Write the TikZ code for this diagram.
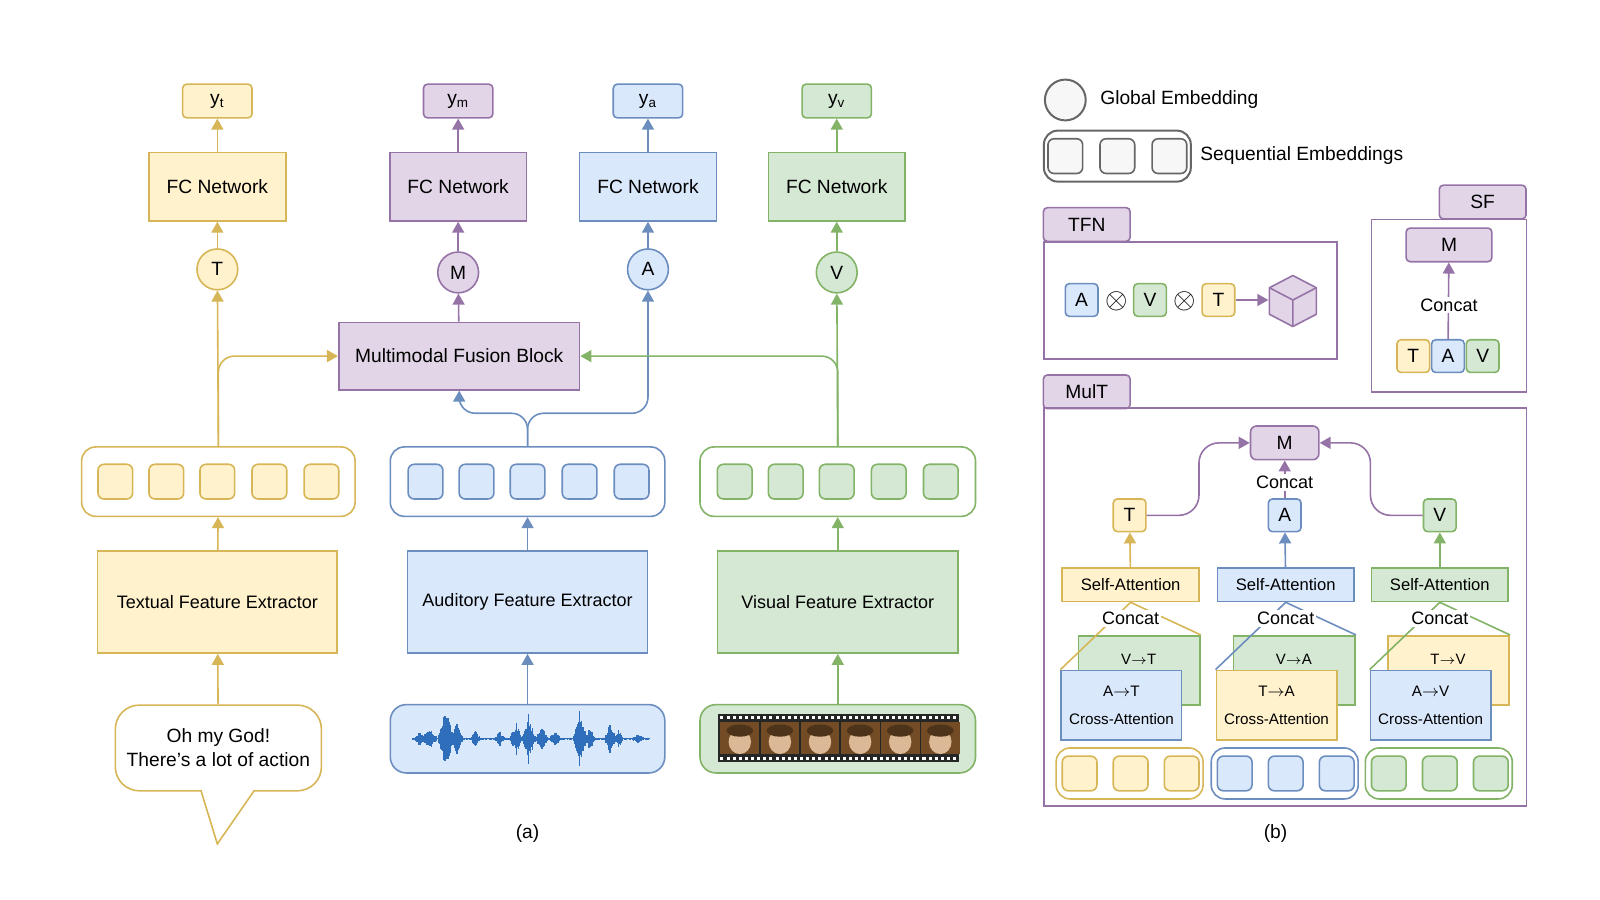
\documentclass[tikz,border=0pt]{standalone}
\usepackage{fontspec}
\setmainfont{Liberation Sans}
\usetikzlibrary{arrows.meta}
\definecolor{yfill}{HTML}{FFF2CC}\definecolor{ydraw}{HTML}{D6B656}
\definecolor{pfill}{HTML}{E1D5E7}\definecolor{pdraw}{HTML}{9673A6}
\definecolor{bfill}{HTML}{DAE8FC}\definecolor{bdraw}{HTML}{6C8EBF}
\definecolor{gfill}{HTML}{D5E8D4}\definecolor{gdraw}{HTML}{82B366}
\definecolor{wave}{HTML}{2F6EBA}
\newdimen\pu \pu=0.51pt
\begin{document}
\begin{tikzpicture}[x=0.51pt,y=-0.51pt,line width=0.8pt,>={Triangle[length=5.5pt,width=6pt]},
    font=\fontsize{9.6}{12}\selectfont,
    sz/.style 2 args={minimum width={#1*\pu},minimum height={#2*\pu}},
    box/.style={draw,inner sep=0pt,align=center},
    ybox/.style={box,fill=yfill,draw=ydraw},
    pbox/.style={box,fill=pfill,draw=pdraw},
    bbox/.style={box,fill=bfill,draw=bdraw},
    gbox/.style={box,fill=gfill,draw=gdraw},
    sq/.style={rounded corners=3pt,sz={34}{34}},
    tok/.style={rounded corners=2pt,sz={32}{32}},
    circ/.style={circle,draw,inner sep=0pt,minimum size={40*\pu}},
    cont/.style={draw,rounded corners=7pt,fill=white},
    wlabel/.style={fill=white,inner sep=1pt}]
  \useasboundingbox (0,0) rectangle (1568,882);

  % (a) outputs
  \node[ybox,rounded corners=2pt,sz={68}{33}] (yt) at (213,99) {y\textsubscript{t}};
  \node[pbox,rounded corners=2pt,sz={68}{33}] (ym) at (449,99) {y\textsubscript{m}};
  \node[bbox,rounded corners=2pt,sz={68}{33}] (ya) at (635,99) {y\textsubscript{a}};
  \node[gbox,rounded corners=2pt,sz={68}{33}] (yv) at (820,99) {y\textsubscript{v}};
  \node[ybox,sz={134}{67}] (fct) at (213,183) {FC Network};
  \node[pbox,sz={134}{67}] (fcm) at (449,183) {FC Network};
  \node[bbox,sz={134}{67}] (fca) at (635,183) {FC Network};
  \node[gbox,sz={134}{67}] (fcv) at (820,183) {FC Network};
  \node[circ,fill=yfill,draw=ydraw] (ct) at (213,264) {T};
  \node[circ,fill=pfill,draw=pdraw] (cm) at (449,267) {M};
  \node[circ,fill=bfill,draw=bdraw] (ca) at (635,264) {A};
  \node[circ,fill=gfill,draw=gdraw] (cv) at (820,267) {V};
  \node[pbox,sz={236}{66}] (fus) at (450,349) {Multimodal Fusion Block};

  % sequential features
  \node[cont,draw=ydraw,sz={268}{68}] (seqt) at (214,472) {};
  \node[cont,draw=bdraw,sz={269}{68}] (seqa) at (517,472) {};
  \node[cont,draw=gdraw,sz={270}{68}] (seqv) at (821,472) {};
  \foreach \x in {113,163,213,264,315} {
    \node[ybox,sq] at (\x,472) {};
    \node[bbox,sq] at (\x+304,472) {};
    \node[gbox,sq] at (\x+607,472) {};
  }
  \node[ybox,sz={235}{100},font=\fontsize{9}{11}\selectfont] (ext) at (213,590) {Textual Feature Extractor};
  \node[bbox,sz={235}{100},font=\fontsize{9}{11}\selectfont] (exa) at (517,590) {Auditory Feature Extractor};
  \node[gbox,sz={236}{100},font=\fontsize{9}{11}\selectfont] (exv) at (821,590) {Visual Feature Extractor};

  % inputs
  \node[box,draw=ydraw,fill=white,rounded corners=12pt,sz={202}{84}] (speech) at (214,733)
    {Oh my God!\\There's a lot of action};
  \fill[white] (198,772) rectangle (248,778);
  \draw[ydraw] (197,775) -- (213,827) -- (249,775);
  \node[bbox,rounded corners=8pt,sz={269}{67}] (wav) at (517,724) {};
  \node[gbox,rounded corners=8pt,sz={270}{67}] (vid) at (821,724) {};
  % waveform
  \pgfmathsetseed{7}
  \foreach \xx in {405,406,...,636} {
    \pgfmathsetmacro\env{1+6*max(0,1-abs(\xx-411)/6)+12*max(0,1-abs(\xx-421)/7)+27*max(0,1-abs(\xx-437)/8)
      +14*max(0,1-abs(\xx-448)/6)+8*max(0,1-abs(\xx-466)/5)+6*max(0,1-abs(\xx-490)/5)+16*max(0,1-abs(\xx-506)/6)
      +24*max(0,1-abs(\xx-518)/7)+12*max(0,1-abs(\xx-531)/6)+8*max(0,1-abs(\xx-544)/5)+28*max(0,1-abs(\xx-568)/7)
      +10*max(0,1-abs(\xx-578)/5)+14*max(0,1-abs(\xx-598)/5)+9*max(0,1-abs(\xx-606)/5)+3*max(0,1-abs(\xx-625)/6)}
    \pgfmathsetmacro\amp{\env*(0.5+0.5*rnd)}
    \draw[wave,line width=0.8pt] (\xx,724-\amp) -- (\xx,724+\amp);
  }
  % film strip
  \fill[black!85] (704,700) rectangle (940,747);
  \foreach \k in {0,...,5} {
    \pgfmathsetmacro\fx{706+39.3*\k}
    \fill[brown!60!black] (\fx,708) rectangle (\fx+38,739);
    \fill[brown!55!white] (\fx+19,727) ellipse (11 and 12);
    \fill[brown!40!black] (\fx+19,716) ellipse (13 and 6);
  }
  \foreach \h in {706,712,...,936} {
    \fill[white] (\h,702) rectangle (\h+3,705);
    \fill[white] (\h,742) rectangle (\h+3,745);
  }

  % arrows (a)
  \draw[->,ydraw] (speech) -- (ext);
  \draw[->,ydraw] (ext) -- (seqt);
  \draw[->,ydraw] (seqt.north) -- (ct);
  \draw[->,ydraw,rounded corners=8pt] (seqt.north) |- (fus.west);
  \draw[->,ydraw] (ct) -- (fct);
  \draw[->,ydraw] (fct) -- (yt);
  \draw[->,bdraw] (wav) -- (exa);
  \draw[->,bdraw] (exa) -- (seqa);
  \draw[->,bdraw,rounded corners=8pt] (seqa.north) -- (517,405) -| (ca.south);
  \draw[->,bdraw,rounded corners=8pt] (seqa.north) -- (517,405) -| (fus.south);
  \draw[->,bdraw] (ca) -- (fca);
  \draw[->,bdraw] (fca) -- (ya);
  \draw[->,gdraw] (vid) -- (exv);
  \draw[->,gdraw] (exv) -- (seqv);
  \draw[->,gdraw] (seqv.north) -- (cv);
  \draw[->,gdraw,rounded corners=8pt] (seqv.north) |- (fus.east);
  \draw[->,gdraw] (cv) -- (fcv);
  \draw[->,gdraw] (fcv) -- (yv);
  \draw[->,pdraw] (fus) -- (cm);
  \draw[->,pdraw] (cm) -- (fcm);
  \draw[->,pdraw] (fcm) -- (ym);
  \node (lba) at (517,817) {(a)};
  \node (lbb) at (1250,817) {(b)};

  % (b) legend
  \node[circ,draw=black!60,fill=black!3,line width=1pt] (glob) at (1044,98) {};
  \node[anchor=west] (globt) at (1071,98) {Global Embedding};
  \node[cont,draw=black!60,line width=1pt,sz={144}{50}] (leg) at (1095,153) {};
  \foreach \x in {1044,1095,1146}
    \node[box,sq,draw=black!60,fill=black!3] at (\x,153) {};
  \node[anchor=west] (legt) at (1169,152) {Sequential Embeddings};

  % TFN
  \node[pbox,rounded corners=2pt,sz={85}{33}] (tfn) at (1065,220) {TFN};
  \node[box,draw=pdraw,sz={287}{115}] (tfnb) at (1166.5,294.5) {};
  \node[bbox,tok] (ta) at (1060,294) {A};
  \node[font=\Large] (o1) at (1094,295) {$\otimes$};
  \node[gbox,tok] (tv) at (1127,294) {V};
  \node[font=\Large] (o2) at (1161,295) {$\otimes$};
  \node[ybox,tok] (tt) at (1194,294) {T};
  \coordinate (cube) at (1243,294);
  \draw[->,pdraw] (tt) -- (cube);
  \draw[pdraw,fill=pfill,line join=round] (1267,270) -- (1290,282) -- (1290,308) -- (1267,320) -- (1244,308) -- (1244,282) -- cycle;
  \draw[pdraw,line join=round] (1244,282) -- (1267,294) -- (1290,282) (1267,294) -- (1267,320);

  % SF
  \node[pbox,rounded corners=2pt,sz={85}{33}] (sf) at (1453,198) {SF};
  \node[box,draw=pdraw,sz={152}{169}] (sfb) at (1420,299.5) {};
  \node[pbox,rounded corners=2pt,sz={84}{33}] (sfm) at (1420,240) {M};
  \node[ybox,tok] (sft) at (1385,349) {T};
  \node[bbox,tok] (sfa) at (1419,349) {A};
  \node[gbox,tok] (sfv) at (1453,349) {V};
  \draw[->,pdraw] (sfa) -- (sfm);
  \node[wlabel,font=\fontsize{9}{11}\selectfont] (sfc) at (1420,299) {Concat};

  % MulT
  \node[pbox,rounded corners=2pt,sz={85}{33}] (mult) at (1065,384) {MulT};
  \node[box,draw=pdraw,sz={473}{390}] (multb) at (1259.5,595) {};
  \node[pbox,rounded corners=3pt,sz={67}{33}] (mm) at (1259,434) {M};
  \node[ybox,tok] (mt) at (1107,505) {T};
  \node[bbox,tok] (ma) at (1259,505) {A};
  \node[gbox,tok] (mv) at (1411,505) {V};
  \draw[->,pdraw,rounded corners=10pt] (mt.east) -- (1175,505) -- (1175,434) -- (mm.west);
  \draw[->,pdraw,rounded corners=10pt] (mv.west) -- (1343,505) -- (1343,434) -- (mm.east);
  \draw[->,pdraw] (ma) -- (mm);
  \node[wlabel,font=\fontsize{9}{11}\selectfont] (mc) at (1259,473) {Concat};
  \foreach \c/\x/\cl/\bk/\fr/\bt/\ft in {t/0/y/g/b/V$\to$T/A$\to$T, a/152/b/g/y/V$\to$A/T$\to$A, v/303/g/y/b/T$\to$V/A$\to$V} {
    \node[box,fill=\cl fill,draw=\cl draw,sz={134}{33},font=\fontsize{8.3}{10}\selectfont] (sa\c) at (1108+\x,573) {Self-Attention};
    \node[box,fill=\bk fill,draw=\bk draw,sz={119}{68}] (bk\c) at (1116.5+\x,657) {};
    \node[font=\fontsize{7.5}{9}\selectfont] at (1116+\x,646) {\bt};
    \node[box,fill=\fr fill,draw=\fr draw,sz={118}{68},font=\fontsize{7.6}{9}\selectfont] (fr\c) at (1099+\x,691)
      {\ft\\[5pt]Cross-Attention};
    \draw[\cl draw] (fr\c.north west) -- (sa\c.south) -- (bk\c.north east);
    \node[wlabel,font=\fontsize{9}{11}\selectfont] (cc\c) at (1108+\x,606) {Concat};
    \draw[->,\cl draw] (sa\c) -- (m\c);
    \node[cont,draw=\cl draw,sz={144}{50}] (bs\c) at (1107+\x,758) {};
    \foreach \y in {1058,1108,1158}
      \node[box,sq,fill=\cl fill,draw=\cl draw] at (\y+\x,758) {};
  }
\end{tikzpicture}
\end{document}
